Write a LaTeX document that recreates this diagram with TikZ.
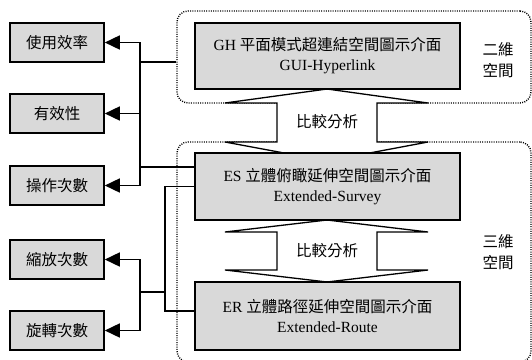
\documentclass[tikz,border=0pt]{standalone}
\usepackage{fontspec}
\setmainfont{Liberation Serif}
\newfontfamily\cjk{Noto Sans CJK TC}
\usetikzlibrary{arrows.meta}
\begin{document}
\begin{tikzpicture}[x=1pt,y=-1pt,
  metric/.style={draw,line width=1.6pt,fill=gray!30,minimum width=94pt,minimum height=39pt,inner sep=0pt,font=\fontsize{15.5}{20}\selectfont\cjk},
  mainbox/.style={draw,line width=1.6pt,fill=gray!30,minimum width=265pt,minimum height=67pt,inner sep=0pt,align=center,font=\fontsize{15.5}{20}\selectfont},
  frame/.style={draw,line width=1.4pt,dash pattern=on 1pt off 1.3pt,rounded corners=11pt,inner sep=0pt},
  conn/.style={line width=1.6pt,-{Triangle[length=15pt,width=14pt]}},
  line/.style={line width=1.6pt},
  dblarrow/.style={draw,line width=1.3pt,fill=white,line join=miter},
  lbl/.style={align=center,inner sep=0pt,font=\fontsize{15.5}{21}\selectfont\cjk}]
\useasboundingbox (0,0) rectangle (532,359);
\clip (0,0) rectangle (532,359);
% dotted frames
\node[frame,minimum width=354pt,minimum height=92pt] (f1) at (354,57) {};
\node[frame,minimum width=354pt,minimum height=220pt] (f2) at (354,252) {};
% double arrows
\draw[dblarrow] (327,89) -- (428,103) -- (377,103) -- (377,142) -- (428,142) -- (327,161) -- (225,142) -- (277,142) -- (277,103) -- (225,103) -- cycle;
\draw[dblarrow] (327,220) -- (428,232) -- (377,232) -- (377,270) -- (428,270) -- (327,282) -- (225,270) -- (277,270) -- (277,232) -- (225,232) -- cycle;
\node[lbl] (c1) at (327,122) {比較分析};
\node[lbl] (c2) at (327,251) {比較分析};
% main boxes
\node[mainbox,minimum height=66pt] (gh) at (327.5,56) {GH {\cjk 平面模式超連結空間圖示介面}\\GUI-Hyperlink};
\node[mainbox] (es) at (327.5,186.5) {ES {\cjk 立體俯瞰延伸空間圖示介面}\\Extended-Survey};
\node[mainbox,minimum height=68pt] (er) at (327.5,316) {ER {\cjk 立體路徑延伸空間圖示介面}\\Extended-Route};
% metric boxes
\node[metric] (m1) at (57,42.5) {使用效率};
\node[metric] (m2) at (57,113.5) {有效性};
\node[metric] (m3) at (57,185.5) {操作次數};
\node[metric] (m4) at (57,259.5) {縮放次數};
\node[metric] (m5) at (57,330.5) {旋轉次數};
% side labels
\node[lbl] (d2) at (498,60) {二維\\空間};
\node[lbl] (d3) at (498,252) {三維\\空間};
% connectors, upper bus
\coordinate (b1) at (140,62);
\coordinate (b1b) at (140,167);
\draw[line] (b1) -- (b1b);
\draw[line] (b1) -- (f1.west |- b1);
\draw[line] (b1b) -- (es.west |- b1b);
\draw[conn] (b1) |- (m1.east);
\draw[conn] (b1) |- (m2.east);
\draw[conn] (b1b) |- (m3.east);
% lower bus
\coordinate (b2) at (140,292);
\coordinate (b3) at (165,292);
\draw[conn] (b2) |- (m4.east);
\draw[conn] (b2) |- (m5.east);
\draw[line] (b2) -- (b3);
\draw[line] (b3) |- (es.west);
\draw[line] (b3) |- ([yshift=5pt]er.west);
\end{tikzpicture}
\end{document}
